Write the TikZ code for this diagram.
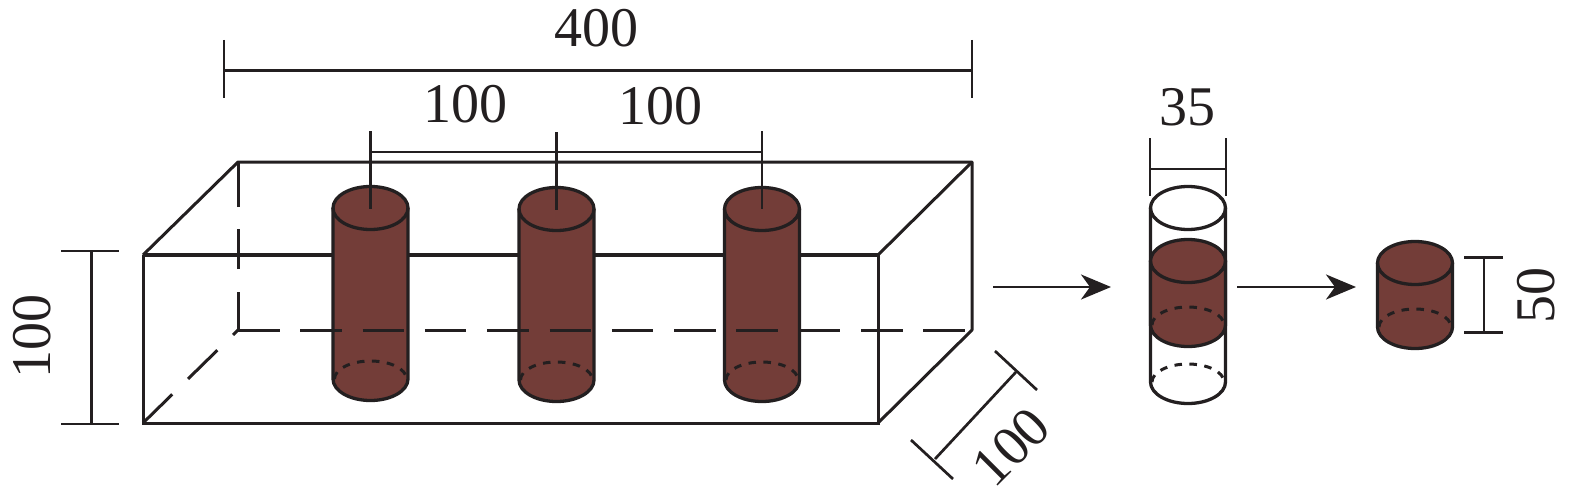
\documentclass[tikz,border=0pt]{standalone}
\usepackage{fontspec}
\setmainfont{Liberation Serif}
\usetikzlibrary{arrows.meta}
\definecolor{ink}{HTML}{231F20}
\definecolor{rust}{HTML}{733D38}
\tikzset{
  line/.style={draw=ink,line width=3pt},
  front line/.style={draw=ink,line width=3.8pt},
  thin line/.style={draw=ink,line width=2.7pt},
  dashline/.style={draw=ink,line width=3pt,dash pattern=on 41.5pt off 20.8pt},
  dotline/.style={draw=ink,line width=3pt,dash pattern=on 7.5pt off 7.5pt},
  cylline/.style={draw=ink,line width=3.3pt},
  flow/.style={draw=ink,line width=2.8pt,-{Stealth[length=30pt,width=25pt,inset=9pt]}},
  dimlabel/.style={font=\fontsize{56}{56}\selectfont,text=ink,inner sep=0pt}
}
% centre x, top y, bottom y, fill
\newcommand{\cylbody}[4]{%
  \path[fill=#4] (#1-37.5,#2) -- (#1-37.5,#3) arc[start angle=180,end angle=360,x radius=37.5pt,y radius=21.5pt] -- (#1+37.5,#2) arc[start angle=0,end angle=180,x radius=37.5pt,y radius=21.5pt] -- cycle;
  \draw[cylline] (#1-37.5,#2) -- (#1-37.5,#3) arc[start angle=180,end angle=360,x radius=37.5pt,y radius=21.5pt] -- (#1+37.5,#2);
  \draw[cylline] (#1,#2) ellipse[x radius=37.5pt,y radius=21.5pt];
  \draw[dotline] (#1-36,#3) arc[start angle=180,end angle=0,x radius=36pt,y radius=18pt];
}
\begin{document}
\begin{tikzpicture}[x=1pt,y=-1pt]
\useasboundingbox (0,0) rectangle (1575,503);
% box
\draw[line] (143,255) -- (143,423) -- (878,423) -- (878,255);
\draw[front line] (143,255) -- (878,255);
\draw[line,line join=round] (143,255) -- (238,162) -- (972,162) -- (972,330) -- (878,423);
\draw[line] (878,255) -- (972,162);
\draw[dashline,dash pattern=on 38pt off 23pt on 40pt off 22pt on 45pt off 0pt] (238,330) -- (238,162);
\draw[dashline,dash pattern=on 41pt off 22pt] (143,423) -- (238,330);
% rods
\cylbody{370.5}{208}{379}{rust}
\cylbody{556.5}{209}{380}{rust}
\cylbody{762}{209}{380}{rust}
\draw[dashline] (238,330) -- (972,330);
% dimensions over the box
\draw[thin line] (224,40) -- (224,98);
\draw[thin line] (972,40) -- (972,98);
\draw[thin line] (224,70.5) -- (972,70.5);
\draw[thin line] (370.5,131) -- (370.5,209);
\draw[thin line] (556.5,132) -- (556.5,210);
\draw[thin line] (762,131) -- (762,209);
\draw[thin line] (370.5,152) -- (762,152);
\node[dimlabel] (t400) at (596,28) {400};
\node[dimlabel] (ta) at (465,104) {100};
\node[dimlabel] (tb) at (660,106) {100};
% left
\draw[thin line] (61,251) -- (119,251);
\draw[thin line] (61,424) -- (119,424);
\draw[thin line] (91.5,251) -- (91.5,424);
\node[dimlabel,rotate=90] (tl) at (32,336) {100};
% depth
\draw[thin line] (911,440) -- (953,479);
\draw[thin line] (995,351) -- (1037,390);
\draw[thin line] (935,459) -- (1016,372);
\node[dimlabel,rotate=45] (td) at (1011,447) {100};
% arrows
\coordinate (a1) at (993,287); \coordinate (a2) at (1111,287);
\coordinate (b1) at (1237,287); \coordinate (b2) at (1356,287);
\draw[flow] (a1) -- (a2);
\draw[flow] (b1) -- (b2);
% tube
\cylbody{1188}{208}{382}{white}
\cylbody{1188}{261}{325}{rust}
\draw[thin line] (1150,138) -- (1150,196);
\draw[thin line] (1226,138) -- (1226,196);
\draw[thin line] (1150,169) -- (1226,169);
\node[dimlabel] (t35) at (1187,107) {35};
% sample
\cylbody{1415}{263}{327}{rust}
\draw[thin line] (1464,257.5) -- (1503,257.5);
\draw[thin line] (1464,332.5) -- (1503,332.5);
\draw[thin line] (1484,257.5) -- (1484,332.5);
\node[dimlabel,rotate=90] (t50) at (1536,295) {50};
\end{tikzpicture}
\end{document}
